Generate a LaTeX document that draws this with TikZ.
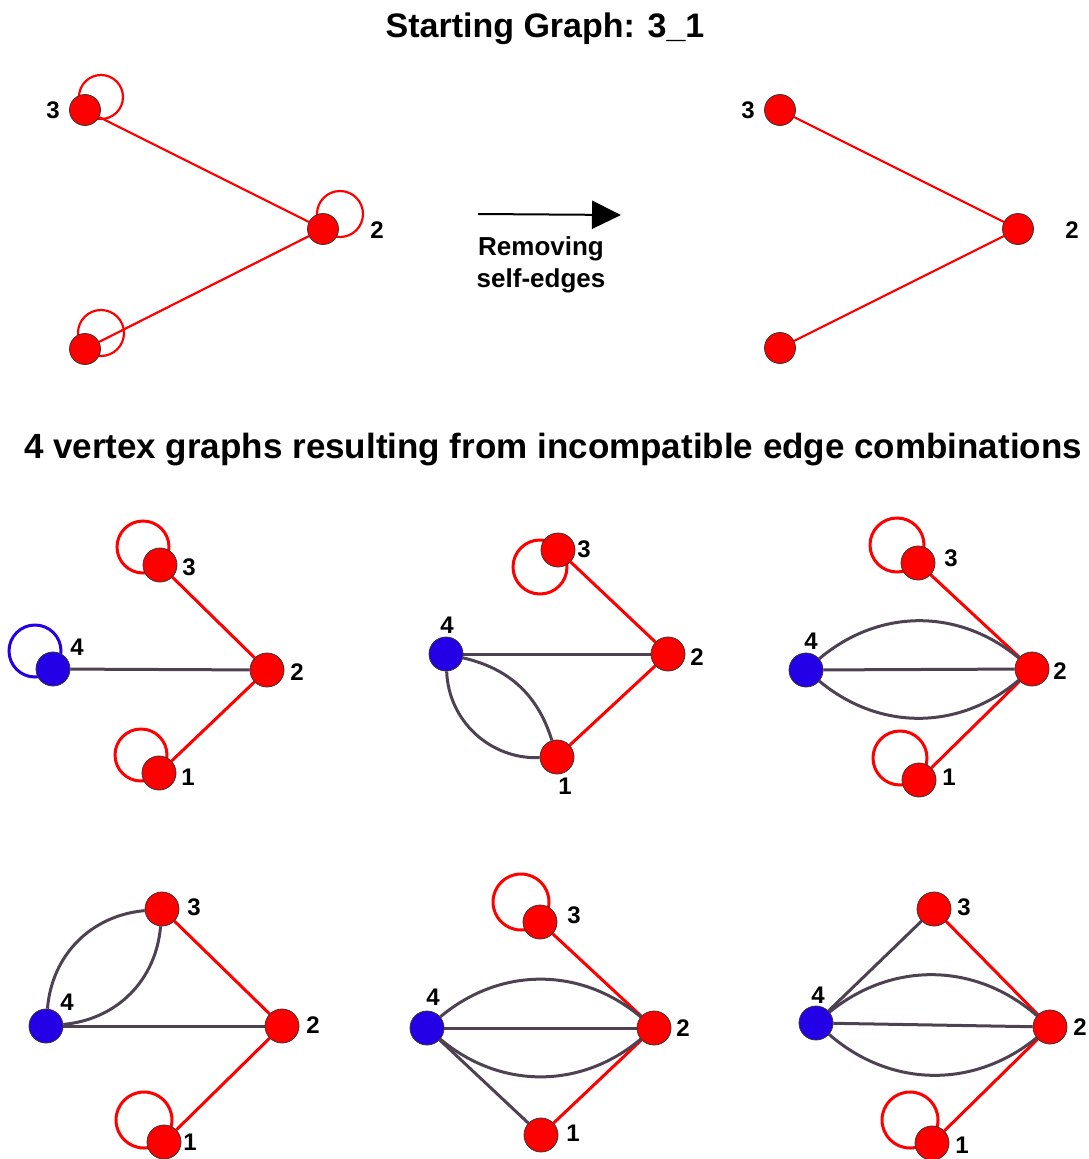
\documentclass[tikz,border=0pt]{standalone}
\usepackage{fontspec}
\setmainfont{Liberation Sans}
\usetikzlibrary{arrows.meta}
\pgfdeclarelayer{bg}
\pgfsetlayers{bg,main}
\definecolor{nodered}{RGB}{255,0,0}
\definecolor{nodeblue}{RGB}{35,0,230}
\definecolor{edgedark}{RGB}{78,66,82}
\definecolor{rim}{RGB}{60,50,50}
\begin{document}
\begin{tikzpicture}[x=1pt,y=-1pt,
  rv/.style={circle,draw=rim,line width=0.8pt,inner sep=0pt,minimum size=34pt,fill=nodered},
  bv/.style={rv,fill=nodeblue},
  rs/.style={rv,minimum size=31pt},
  redge/.style={draw=nodered,line width=3pt},
  rthin/.style={draw=nodered,line width=2.2pt},
  dedge/.style={draw=edgedark,line width=3pt},
  lbl/.style={font=\fontsize{24}{26}\selectfont\bfseries,inner sep=0pt},
  title/.style={font=\fontsize{34}{40}\selectfont\bfseries,inner sep=0pt},
  title2/.style={font=\fontsize{35}{40}\selectfont\bfseries,inner sep=0pt},
  sub/.style={font=\fontsize{26}{30}\selectfont\bfseries,inner sep=0pt,align=center}
]
\useasboundingbox (0,0) rectangle (1089,1159);

% titles
\node[title] (t1) at (545,29) {Starting Graph: 3\_1};
\node[title2] (t2) at (553,450) {4 vertex graphs resulting from incompatible edge combinations};

% ---------- top left ----------
\node[rs] (a3) at (85,110) {};
\node[rs] (a2) at (323,229) {};
\node[rs] (a1) at (85,349) {};
\node[lbl] (la3) at (53,110) {3};
\node[lbl] (la2) at (377,230) {2};
\begin{pgfonlayer}{bg}
\draw[rthin] (a3) -- (a2);
\draw[rthin] (a1) -- (a2);
\draw[rthin] (a3) ++(16,-13) circle[radius=22];
\draw[rthin] (a2) ++(17,-15) circle[radius=23];
\draw[rthin] (a1) ++(16,-16) circle[radius=23];
\end{pgfonlayer}

% arrow
\coordinate (arrS) at (478,214);
\coordinate (arrE) at (621,215);
\draw[line width=2pt,-{Triangle[length=29pt,width=28pt]}] (arrS) -- (arrE);
\node[sub] (rm) at (541,249) {Removing};
\node[sub] (se) at (541,281) {self-edges};

% ---------- top right ----------
\node[rs] (b3) at (780,110) {};
\node[rs] (b2) at (1018,229) {};
\node[rs] (b1) at (780,348) {};
\node[lbl] (lb3) at (748,110) {3};
\node[lbl] (lb2) at (1072,230) {2};
\begin{pgfonlayer}{bg}
\draw[rthin] (b3) -- (b2);
\draw[rthin] (b1) -- (b2);
\end{pgfonlayer}

% ---------- G1 ----------
\node[bv] (c4) at (53,669) {};
\node[rv] (c3) at (160,565) {};
\node[rv] (c2) at (267,670) {};
\node[rv] (c1) at (159,773) {};
\node[lbl] (lc3) at (189,567) {3};
\node[lbl] (lc4) at (77,647) {4};
\node[lbl] (lc2) at (297,672) {2};
\node[lbl] (lc1) at (188,777) {1};
\begin{pgfonlayer}{bg}
\draw[draw=nodeblue,line width=3pt] (c4) ++(-18,-18) circle[radius=26];
\draw[redge] (c3) ++(-17,-18) circle[radius=26];
\draw[redge] (c1) ++(-18,-18) circle[radius=26];
\draw[redge] (c3) -- (c2);
\draw[redge] (c1) -- (c2);
\draw[dedge] (c4) -- (c2);
\end{pgfonlayer}

% ---------- G2 ----------
\node[rv] (d3) at (558,550) {};
\node[bv] (d4) at (446,654) {};
\node[rv] (d2) at (668,654) {};
\node[rv] (d1) at (557,757) {};
\node[lbl] (ld3) at (584,549) {3};
\node[lbl] (ld4) at (447,625) {4};
\node[lbl] (ld2) at (697,657) {2};
\node[lbl] (ld1) at (565,786) {1};
\begin{pgfonlayer}{bg}
\draw[redge] (d3) ++(-18,17) circle[radius=27];
\draw[redge] (d3) -- (d2);
\draw[redge] (d1) -- (d2);
\draw[dedge] (d4) -- (d2);
\draw[dedge] (d4) to[bend right=45] (d1);
\draw[dedge] (d4) to[bend left=30] (d1);
\end{pgfonlayer}

% ---------- G3 ----------
\node[rv] (e3) at (918,563) {};
\node[bv] (e4) at (806,670) {};
\node[rv] (e2) at (1032,669) {};
\node[rv] (e1) at (919,780) {};
\node[lbl] (le3) at (951,558) {3};
\node[lbl] (le4) at (811,641) {4};
\node[lbl] (le2) at (1060,671) {2};
\node[lbl] (le1) at (949,777) {1};
\begin{pgfonlayer}{bg}
\draw[redge] (e3) ++(-21,-18) circle[radius=27];
\draw[redge] (e1) ++(-19,-22) circle[radius=27];
\draw[redge] (e3) -- (e2);
\draw[redge] (e1) -- (e2);
\draw[dedge] (e4) -- (e2);
\draw[dedge] (e4) to[bend left=40] (e2);
\draw[dedge] (e4) to[bend right=40] (e2);
\end{pgfonlayer}

% ---------- G4 ----------
\node[rv] (f3) at (162,909) {};
\node[bv] (f4) at (46,1026) {};
\node[rv] (f2) at (282,1026) {};
\node[rv] (f1) at (164,1142) {};
\node[lbl] (lf3) at (194,907) {3};
\node[lbl] (lf4) at (67,1002) {4};
\node[lbl] (lf2) at (313,1025) {2};
\node[lbl] (lf1) at (190,1142) {1};
\begin{pgfonlayer}{bg}
\draw[redge] (f1) ++(-20,-22) circle[radius=28];
\draw[redge] (f3) -- (f2);
\draw[redge] (f1) -- (f2);
\draw[dedge] (f4) -- (f2);
\draw[dedge] (f4) to[bend left=40] (f3);
\draw[dedge] (f4) to[bend right=40] (f3);
\end{pgfonlayer}

% ---------- G5 ----------
\node[rv] (g3) at (540,922) {};
\node[bv] (g4) at (427,1028) {};
\node[rv] (g2) at (654,1028) {};
\node[rv] (g1) at (541,1135) {};
\node[lbl] (lg3) at (574,915) {3};
\node[lbl] (lg4) at (433,997) {4};
\node[lbl] (lg2) at (683,1028) {2};
\node[lbl] (lg1) at (573,1133) {1};
\begin{pgfonlayer}{bg}
\draw[redge] (g3) ++(-19,-20) circle[radius=28];
\draw[redge] (g3) -- (g2);
\draw[redge] (g1) -- (g2);
\draw[dedge] (g4) -- (g2);
\draw[dedge] (g4) -- (g1);
\draw[dedge] (g4) to[bend left=40] (g2);
\draw[dedge] (g4) to[bend right=40] (g2);
\end{pgfonlayer}

% ---------- G6 ----------
\node[rv] (h3) at (934,909) {};
\node[bv] (h4) at (816,1023) {};
\node[rv] (h2) at (1050,1027) {};
\node[rv] (h1) at (932,1143) {};
\node[lbl] (lh3) at (964,907) {3};
\node[lbl] (lh4) at (818,995) {4};
\node[lbl] (lh2) at (1080,1027) {2};
\node[lbl] (lh1) at (962,1145) {1};
\begin{pgfonlayer}{bg}
\draw[redge] (h1) ++(-22,-23) circle[radius=28];
\draw[redge] (h3) -- (h2);
\draw[redge] (h1) -- (h2);
\draw[dedge] (h4) -- (h3);
\draw[dedge] (h4) -- (h2);
\draw[dedge] (h4) to[bend left=40] (h2);
\draw[dedge] (h4) to[bend right=40] (h2);
\end{pgfonlayer}
\end{tikzpicture}
\end{document}
